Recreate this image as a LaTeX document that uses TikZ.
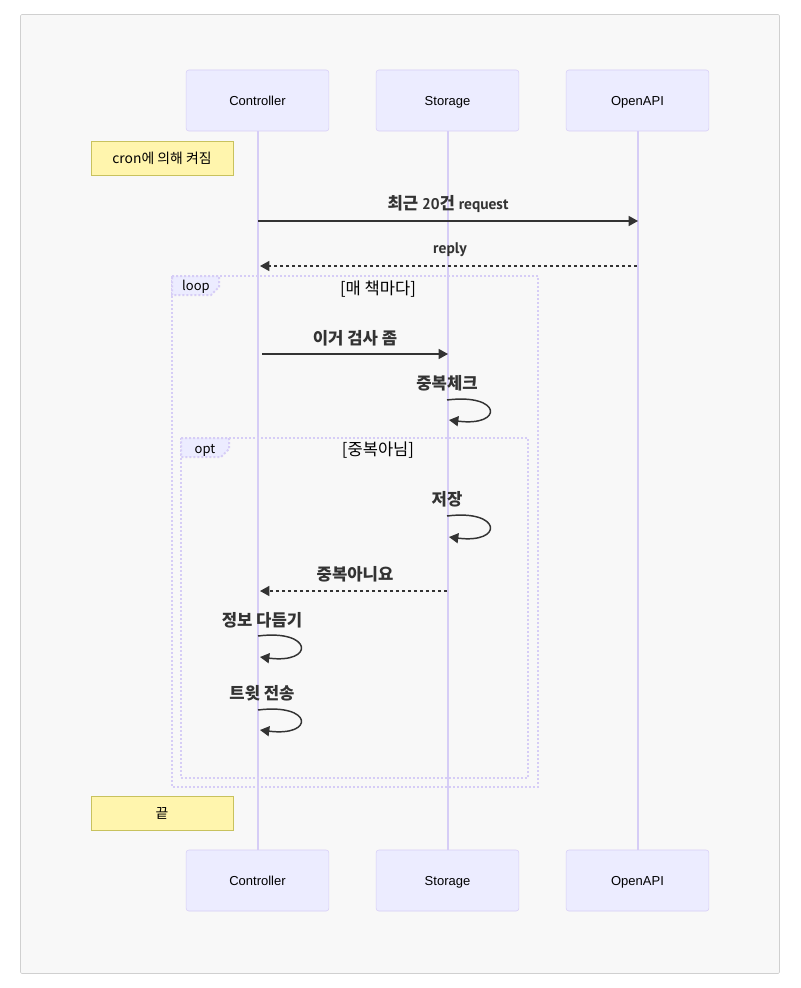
\documentclass[tikz,border=0pt]{standalone}
\usepackage{fontspec}
\setmainfont{Liberation Sans}
\newfontfamily\kr{Noto Sans CJK KR}
\newfontfamily\latb{PT Sans}
\newcommand\lat[1]{{\latb\bfseries\fontsize{11.6}{13}\selectfont #1}}
\usetikzlibrary{arrows.meta,positioning}
\definecolor{sqbg}{HTML}{F8F8F8}
\definecolor{sqedge}{HTML}{D0D0D0}
\definecolor{sqactor}{HTML}{ECECFF}
\definecolor{sqline}{HTML}{D6CDF6}
\definecolor{sqnote}{HTML}{FFF5AD}
\definecolor{sqnoteedge}{HTML}{C8C25E}
\definecolor{sqtext}{HTML}{333333}

\begin{document}
\begin{tikzpicture}[x=0.75pt,y=-0.75pt,
  actor/.style={draw=sqline,fill=sqactor,rounded corners=2pt,minimum width=107pt,
    minimum height=45.75pt,font=\fontsize{9.75}{12}\selectfont,text=black,
    text height=8pt,text depth=0pt},
  note/.style={draw=sqnoteedge,fill=sqnote,minimum width=106.5pt,minimum height=25.5pt,
    font=\kr\fontsize{10.4}{12}\selectfont,text=black},
  life/.style={draw=sqline,line width=1.5pt},
  msg/.style={font=\kr\bfseries\fontsize{12.5}{14}\selectfont,text=sqtext,inner sep=0pt},
  call/.style={-{Triangle[length=7pt,width=7.5pt]},line width=1.1pt,sqtext},
  back/.style={call,dash pattern=on 2.25pt off 2.25pt},
  frame/.style={draw=sqline,line width=1.5pt,dash pattern=on 1.5pt off 1.5pt},
  tab/.style={frame,fill=sqactor},
  tag/.style={font=\kr\fontsize{9.75}{12}\selectfont,text=black,inner sep=0pt},
  cond/.style={tag,font=\kr\fontsize{12.4}{14}\selectfont}]
  \useasboundingbox (0,0) rectangle (800,988);
  \filldraw[fill=sqbg,draw=sqedge,rounded corners=1pt] (20.5,14.5) rectangle (779.5,973.5);

  % loop and opt frames
  \draw[frame] (172,276) rectangle (538,787);
  \filldraw[tab] (172,276) -- (219,276) -- (219,287) -- (211,295) -- (172,295) -- cycle;
  \node[tag] (looptag) at (196,287) {loop};
  \node[cond] (loopcond) at (378,289) {[매 책마다]};
  \draw[frame] (181,438) rectangle (528,778);
  \filldraw[tab] (181,438) -- (229,438) -- (229,449) -- (221,457) -- (181,457) -- cycle;
  \node[tag] (opttag) at (205,450) {opt};
  \node[cond] (optcond) at (378,450) {[중복아님]};

  % participants
  \node[actor] (ctrl) at (257.5,100.5) {Controller};
  \node[actor] (store) at (447.5,100.5) {Storage};
  \node[actor] (api) at (637.5,100.5) {OpenAPI};
  \node[actor] (ctrlB) at (257.5,880.5) {Controller};
  \node[actor] (storeB) at (447.5,880.5) {Storage};
  \node[actor] (apiB) at (637.5,880.5) {OpenAPI};
  \draw[life] (ctrl) -- (ctrlB);
  \draw[life] (store) -- (storeB);
  \draw[life] (api) -- (apiB);

  \node[note] (wake) at (162,158.5) {cron에 의해 켜짐};
  \node[note] (fin) at (162,813) {끝};

  % messages
  \node[msg] (m1) at (448,204) {최근 \lat{20}건 \lat{request}};
  \coordinate (m1a) at (258,221); \coordinate (m1b) at (638,221);
  \draw[call] (m1a) -- (m1b);
  \node[msg] (m2) at (450,250) {\lat{reply}};
  \coordinate (m2a) at (637,266); \coordinate (m2b) at (260,266);
  \draw[back] (m2a) -- (m2b);
  \node[msg] (m3) at (355,338) {이거 검사 좀};
  \coordinate (m3a) at (262,354); \coordinate (m3b) at (448,354);
  \draw[call] (m3a) -- (m3b);
  \node[msg] (m4) at (447,383) {중복체크};
  \coordinate (m4a) at (447,400); \coordinate (m4b) at (449,420);
  \draw[call] (m4a) .. controls +(55,-7) and +(55,7) .. (m4b);
  \node[msg] (m5) at (447,499) {저장};
  \coordinate (m5a) at (447,516); \coordinate (m5b) at (449,537);
  \draw[call] (m5a) .. controls +(55,-7) and +(55,7) .. (m5b);
  \node[msg] (m6) at (355,574) {중복아니요};
  \coordinate (m6a) at (447,591); \coordinate (m6b) at (260,591);
  \draw[back] (m6a) -- (m6b);
  \node[msg] (m7) at (262,620) {정보 다듬기};
  \coordinate (m7a) at (258,636); \coordinate (m7b) at (260,657);
  \draw[call] (m7a) .. controls +(55,-7) and +(55,7) .. (m7b);
  \node[msg] (m8) at (262,693) {트윗 전송};
  \coordinate (m8a) at (258,710); \coordinate (m8b) at (260,730);
  \draw[call] (m8a) .. controls +(55,-7) and +(55,7) .. (m8b);
\end{tikzpicture}
\end{document}
